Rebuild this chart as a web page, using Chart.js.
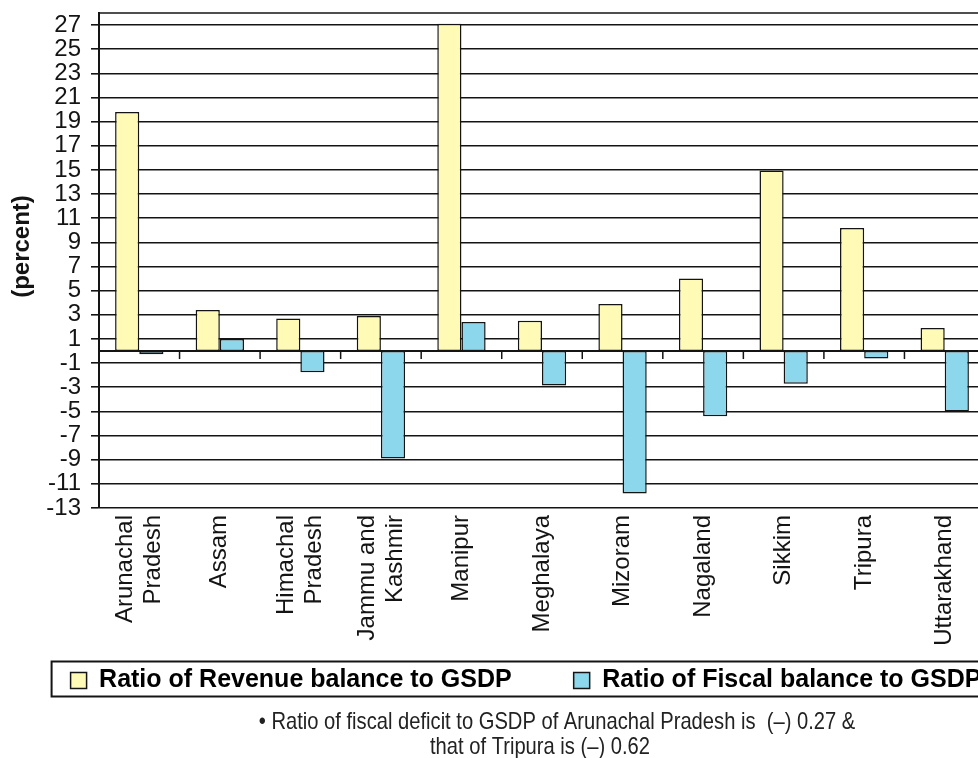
<!DOCTYPE html>
<html>
<head>
<meta charset="utf-8">
<script src="https://cdn.jsdelivr.net/npm/chart.js@4/dist/chart.umd.min.js"></script>
<style>
  html, body { margin: 0; padding: 0; background: #ffffff; overflow: hidden; }
  #wrap { width: 1052px; height: 758px; position: relative; }
</style>
</head>
<body>
<div id="wrap"><canvas id="c" width="1052" height="758"></canvas></div>
<script>
// ---- data ----
const categories = [
  ['Arunachal', 'Pradesh'], 'Assam', ['Himachal', 'Pradesh'], ['Jammu and', 'Kashmir'],
  'Manipur', 'Meghalaya', 'Mizoram', 'Nagaland', 'Sikkim', 'Tripura', 'Uttarakhand'
];
const revenueBalance = [19.8, 3.4, 2.7, 2.9, 27.1, 2.5, 3.9, 6.0, 14.95, 10.2, 1.9];
const fiscalBalance  = [-0.27, 1.0, -1.75, -8.9, 2.4, -2.85, -11.8, -5.4, -2.7, -0.62, -5.0];
const seriesNames = ['Ratio of Revenue balance to GSDP', 'Ratio of Fiscal balance to GSDP'];
const yTickValues = [-13, -11, -9, -7, -5, -3, -1, 1, 3, 5, 7, 9, 11, 13, 15, 17, 19, 21, 23, 25, 27];
const yTitle = '(percent)';
const noteLines = [
  '\u2022 Ratio of fiscal deficit to GSDP of Arunachal Pradesh is  (\u2013) 0.27 &',
  'that of Tripura is (\u2013) 0.62'
];

const INK = '#141414';
const SANS = "'Liberation Sans', Arial, Helvetica, sans-serif";

const decor = {
  id: 'decor',
  beforeDatasetsDraw(chart) {
    const ctx = chart.ctx;
    const ca = chart.chartArea;
    const xs = chart.scales.x, ys = chart.scales.y;
    ctx.save();
    ctx.strokeStyle = INK;
    // top frame line
    ctx.lineWidth = 1.6;
    ctx.beginPath(); ctx.moveTo(ca.left, ca.top); ctx.lineTo(ca.right, ca.top); ctx.stroke();
    // category axis crossing at zero with boundary tick marks
    const y0 = ys.getPixelForValue(0);
    ctx.lineWidth = 2;
    ctx.beginPath(); ctx.moveTo(ca.left, y0); ctx.lineTo(ca.right, y0); ctx.stroke();
    ctx.lineWidth = 1.5;
    for (let i = 1; i < categories.length; i++) {
      const xb = (xs.getPixelForValue(i - 1) + xs.getPixelForValue(i)) / 2;
      ctx.beginPath(); ctx.moveTo(xb, y0); ctx.lineTo(xb, y0 + 8); ctx.stroke();
    }
    ctx.restore();
  },
  afterDraw(chart) {
    const ctx = chart.ctx;
    const ca = chart.chartArea;
    const xs = chart.scales.x;
    ctx.save();
    // y axis title (sits a little above the plot's middle, as in the original)
    ctx.fillStyle = INK;
    ctx.font = 'bold 24px ' + SANS;
    ctx.textAlign = 'center';
    ctx.textBaseline = 'middle';
    ctx.save();
    ctx.translate(chart.scales.y.left + 22, (ca.top + ca.bottom) / 2 - 14);
    ctx.rotate(-Math.PI / 2);
    ctx.fillText(yTitle, 0, 0);
    ctx.restore();
    // rotated category labels
    ctx.font = '24px ' + SANS;
    ctx.textAlign = 'right';
    ctx.textBaseline = 'middle';
    const lineGap = 28;
    categories.forEach((lab, i) => {
      const lines = Array.isArray(lab) ? lab : [lab];
      const cx = xs.getPixelForValue(i);
      lines.forEach((t, k) => {
        const lx = cx + (k - (lines.length - 1) / 2) * lineGap;
        ctx.save();
        ctx.translate(lx, ca.bottom + 7);
        ctx.rotate(-Math.PI / 2);
        ctx.fillText(t, 0, 0);
        ctx.restore();
      });
    });
    // legend frame
    const lg = chart.legend;
    if (lg && lg.legendHitBoxes && lg.legendHitBoxes.length) {
      const hb = lg.legendHitBoxes;
      const cy = hb[0].top + hb[0].height / 2;
      const l = hb[0].left - 19;
      const r = hb[hb.length - 1].left + hb[hb.length - 1].width + 25;
      ctx.strokeStyle = INK;
      ctx.lineWidth = 2;
      ctx.strokeRect(l, cy - 19, r - l, 35);
      // note below the legend (condensed sans, like Arial Narrow)
      const mid = (lg.left + lg.right) / 2;
      ctx.fillStyle = '#222';
      ctx.font = '24px ' + SANS;
      ctx.textAlign = 'center';
      const drawNarrow = (txt, x, y) => {
        ctx.save();
        ctx.translate(x, y);
        ctx.scale(0.84, 1);
        ctx.fillText(txt, 0, 0);
        ctx.restore();
      };
      drawNarrow(noteLines[0], mid + 31, cy + 42);
      drawNarrow(noteLines[1], mid + 14, cy + 67);
    }
    ctx.restore();
  }
};

new Chart(document.getElementById('c'), {
  type: 'bar',
  data: {
    labels: categories,
    datasets: [
      {
        label: seriesNames[0],
        data: revenueBalance,
        backgroundColor: '#FFFAB6',
        borderColor: INK,
        borderWidth: 1.5,
        borderSkipped: false
      },
      {
        label: seriesNames[1],
        data: fiscalBalance,
        backgroundColor: '#8DD7EC',
        borderColor: INK,
        borderWidth: 1.5,
        borderSkipped: false
      }
    ]
  },
  options: {
    responsive: false,
    animation: false,
    devicePixelRatio: 1,
    layout: { padding: { top: 13, left: 0, right: 0, bottom: 55 } },
    datasets: { bar: { categoryPercentage: 0.6, barPercentage: 1.0 } },
    scales: {
      x: {
        grid: { display: false },
        border: { display: false },
        ticks: { display: false },
        afterFit(s) { s.height = 98; s.paddingLeft = 0; s.paddingRight = 0; }
      },
      y: {
        min: -13,
        max: 28,
        afterBuildTicks(s) { s.ticks = yTickValues.map(v => ({ value: v })); },
        ticks: {
          autoSkip: false,
          color: INK,
          font: { family: SANS, size: 24 },
          padding: 10,
          callback: v => String(v)
        },
        grid: { color: INK, lineWidth: 1.6, tickLength: 8, tickColor: INK, tickWidth: 1.6 },
        border: { display: true, color: INK, width: 2 },
        title: { display: false },
        afterFit(s) { s.width = 99; s.paddingTop = 0; s.paddingBottom = 0; }
      },
      yPad: {
        type: 'linear',
        position: 'right',
        display: true,
        grid: { display: false, drawOnChartArea: false },
        border: { display: false },
        ticks: { display: false },
        afterFit(s) { s.width = 67; s.paddingTop = 0; s.paddingBottom = 0; }
      }
    },
    plugins: {
      legend: {
        position: 'bottom',
        align: 'center',
        labels: {
          color: '#000',
          boxWidth: 16,
          boxHeight: 16,
          padding: 62,
          font: { family: SANS, size: 25, weight: 'bold' }
        }
      },
      title: { display: false },
      tooltip: { enabled: false }
    }
  },
  plugins: [decor]
});
</script>
</body>
</html>
